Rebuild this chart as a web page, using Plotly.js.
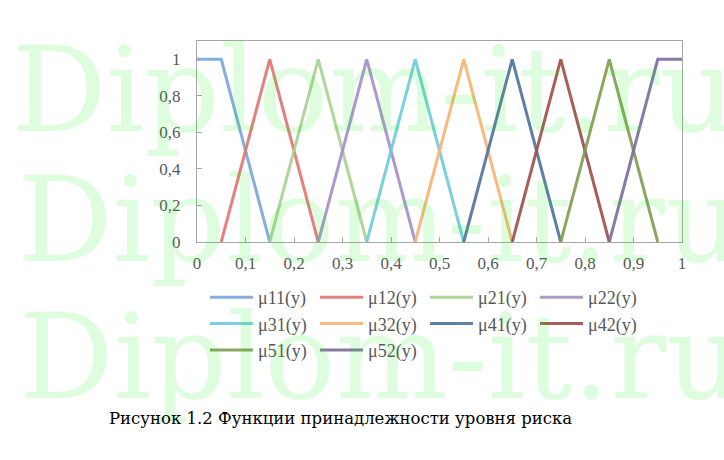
<!DOCTYPE html>
<html>
<head>
<meta charset="utf-8">
<script src="https://cdn.plot.ly/plotly-3.0.1.min.js"></script>
<style>html,body{margin:0;padding:0;background:#fff;}#chart{width:724px;height:460px;}</style>
</head>
<body>
<div id="chart"></div>
<script>
// Series names
const seriesNames = ['μ11(y)','μ12(y)','μ21(y)','μ22(y)','μ31(y)','μ32(y)','μ41(y)','μ42(y)','μ51(y)','μ52(y)'];
// x breakpoints and values per series
const x11 = [0, 0.05, 0.15];
const y11 = [1, 1, 0];
const x12 = [0.05, 0.15, 0.25];
const y12 = [0, 1, 0];
const x21 = [0.15, 0.25, 0.35];
const y21 = [0, 1, 0];
const x22 = [0.25, 0.35, 0.45];
const y22 = [0, 1, 0];
const x31 = [0.35, 0.45, 0.55];
const y31 = [0, 1, 0];
const x32 = [0.45, 0.55, 0.65];
const y32 = [0, 1, 0];
const x41 = [0.55, 0.65, 0.75];
const y41 = [0, 1, 0];
const x42 = [0.65, 0.75, 0.85];
const y42 = [0, 1, 0];
const x51 = [0.75, 0.85, 0.95];
const y51 = [0, 1, 0];
const x52 = [0.85, 0.95, 1];
const y52 = [0, 1, 1];
const xTickVals = [0,0.1,0.2,0.3,0.4,0.5,0.6,0.7,0.8,0.9,1];
const yTickVals = [0,0.2,0.4,0.6,0.8,1];
const captionText = 'Рисунок 1.2 Функции принадлежности уровня риска';
const watermarkText = 'Diplom-it.ru';

const colors = ['#78a5dc','#e0736e','#a9d18e','#a68ccb','#6ccbdb','#fbb170','#4e709e','#a04b48','#7e9c50','#7b6b9c'];
const xs = [x11,x12,x21,x22,x31,x32,x41,x42,x51,x52];
const ys = [y11,y12,y21,y22,y31,y32,y41,y42,y51,y52];

const traces = seriesNames.map((n,i)=>({
  type:'scatter', mode:'lines', name:n, x:xs[i], y:ys[i],
  line:{color:colors[i], width:3}, opacity:0.9, hoverinfo:'skip'
}));

const W=724, H=460;
const L=197, R=682, T=41, B=242;
const px2x = px => (px-L)/(R-L);
const px2y = py => (B-py)/(B-T);

const wmRows = [{x:10,y:128},{x:16,y:258},{x:17,y:395}];
const annotations = wmRows.map(r=>({
  text: watermarkText, xref:'paper', yref:'paper', x:px2x(r.x), y:px2y(r.y),
  xanchor:'left', yanchor:'bottom', yshift:-33, showarrow:false,
  font:{family:'DejaVu Serif, serif', size:118, color:'rgba(0,235,0,0.13)'}
}));
annotations.push({
  text: captionText, xref:'paper', yref:'paper', x:px2x(107), y:px2y(418),
  xanchor:'left', yanchor:'middle', showarrow:false,
  font:{family:'DejaVu Serif, serif', size:16.5, color:'#000'}
});

const axisFont = {family:'Liberation Serif, Times New Roman, serif', size:17, color:'#595959'};
const legendFont = {family:'Liberation Serif, Times New Roman, serif', size:18, color:'#595959'};
const layout = {
  width:W, height:H,
  margin:{l:L, r:W-R, t:T, b:H-B},
  paper_bgcolor:'#fff', plot_bgcolor:'rgba(0,0,0,0)',
  separators:',.',
  showlegend:true,
  xaxis:{range:[0,1], tickvals:xTickVals, ticks:'inside', ticklen:5, tickcolor:'#a6a6a6',
    showline:true, mirror:true, linecolor:'#a6a6a6', linewidth:1, showgrid:false, zeroline:false,
    tickfont:axisFont, ticklabelstandoff:6, fixedrange:true},
  yaxis:{range:[0,1.1], tickvals:yTickVals, ticks:'inside', ticklen:5, tickcolor:'#a6a6a6',
    showline:true, mirror:true, linecolor:'#a6a6a6', linewidth:1, showgrid:false, zeroline:false,
    tickfont:axisFont, ticklabelstandoff:12, fixedrange:true},
  legend:{orientation:'h', xref:'container', yref:'container', x:205/W, y:1-279/H,
    xanchor:'left', yanchor:'top', entrywidth:52, entrywidthmode:'pixels', itemwidth:43,
    font:legendFont, bgcolor:'rgba(0,0,0,0)', traceorder:'normal'},
  annotations:annotations
};
Plotly.newPlot('chart', traces, layout, {staticPlot:true, displayModeBar:false});
</script>
</body>
</html>
